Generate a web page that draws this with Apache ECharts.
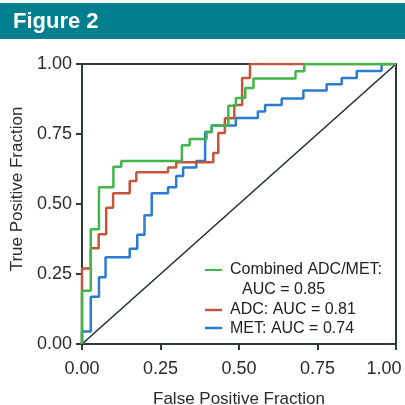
<!DOCTYPE html>
<html>
<head>
<meta charset="utf-8">
<script src="https://cdn.jsdelivr.net/npm/echarts@6/dist/echarts.min.js"></script>
<style>
  html, body { margin: 0; padding: 0; background: #fff; }
  #chart { width: 405px; height: 405px; }
</style>
</head>
<body>
<div id="chart"></div>
<script>
// ROC corner points [fpr, tpr]
var comboRoc = [[0, 0], [0, 0.19], [0.028, 0.41], [0.054, 0.56], [0.10, 0.633], [0.125, 0.654],
    [0.318, 0.71], [0.343, 0.732], [0.397, 0.757], [0.413, 0.78], [0.466, 0.851], [0.49, 0.879],
    [0.52, 0.914], [0.546, 0.948], [0.68, 0.974], [0.708, 1], [1, 1]];
var adcRoc = [[0, 0], [0, 0.27], [0.028, 0.342], [0.053, 0.392], [0.077, 0.487], [0.099, 0.538],
    [0.152, 0.582], [0.173, 0.613], [0.274, 0.63], [0.30, 0.649], [0.418, 0.682], [0.434, 0.754],
    [0.455, 0.806], [0.485, 0.854], [0.51, 0.95], [0.535, 1], [1, 1]];
var metRoc = [[0, 0], [0, 0.045], [0.028, 0.169], [0.054, 0.238], [0.075, 0.31], [0.152, 0.34],
    [0.176, 0.39], [0.199, 0.46], [0.222, 0.538], [0.274, 0.56], [0.30, 0.60], [0.322, 0.63],
    [0.364, 0.654], [0.392, 0.757], [0.413, 0.78], [0.49, 0.807], [0.56, 0.83], [0.583, 0.854],
    [0.636, 0.877], [0.705, 0.905], [0.779, 0.928], [0.827, 0.95], [0.875, 0.975], [0.954, 1], [1, 1]];
var chanceLine = [[0, 0], [1, 1]];
var ticks = [0, 0.25, 0.5, 0.75, 1];

var axisColor = '#2d3b3d';
var font = 'Liberation Sans, Arial, sans-serif';

var myChart = echarts.init(document.getElementById('chart'));

function stepSeries(name, data, color) {
    return {
        name: name,
        type: 'line',
        step: 'end',
        data: data,
        symbol: 'none',
        lineStyle: { color: color, width: 2.5 },
        animation: false
    };
}

function valueAxis(title, isX) {
    return {
        type: 'value',
        min: ticks[0],
        max: ticks[ticks.length - 1],
        interval: 0.25,
        name: title,
        nameLocation: 'middle',
        nameGap: isX ? 47 : 52,
        nameTextStyle: isX
            ? { fontFamily: font, fontSize: 17, color: '#2a2a2a' }
            : { fontFamily: font, fontSize: 17, color: '#2a2a2a', padding: [0, 0, 0, 30] },
        axisLine: { show: true, lineStyle: { color: axisColor, width: 2 } },
        axisTick: { show: true, length: 6, lineStyle: { color: axisColor, width: 2 } },
        axisLabel: {
            fontFamily: font, fontSize: 18, color: '#2a2a2a',
            margin: isX ? 16 : 10,
            formatter: function (v) {
                // last x label sits a little left of its tick, as in the figure
                if (isX && v === ticks[ticks.length - 1]) return '{m|' + v.toFixed(2) + '}';
                return v.toFixed(2);
            },
            rich: { m: { fontFamily: font, fontSize: 18, color: '#2a2a2a', padding: [0, 24, 0, 0] } }
        },
        splitLine: { show: false }
    };
}

var option = {
    backgroundColor: '#fff',
    title: {
        text: 'Figure 2',
        left: 8, top: 6,
        textStyle: { color: '#fff', fontFamily: font, fontWeight: 'bold', fontSize: 22 }
    },
    grid: {
        left: 82, right: 9, top: 64, bottom: 61,
        outerBoundsMode: 'none',
        containLabel: false,
        show: true, borderColor: axisColor, borderWidth: 2
    },
    xAxis: valueAxis('False Positive Fraction', true),
    yAxis: valueAxis('True Positive Fraction', false),
    graphic: [
        { type: 'rect', z: -1, shape: { x: 0, y: 3, width: 405, height: 36 }, style: { fill: '#00808e' } },
        { type: 'line', shape: { x1: 205, y1: 270, x2: 222, y2: 270 }, style: { stroke: '#43b649', lineWidth: 2 } },
        { type: 'line', shape: { x1: 205, y1: 310, x2: 222, y2: 310 }, style: { stroke: '#c4553c', lineWidth: 2.5 } },
        { type: 'line', shape: { x1: 205, y1: 328, x2: 222, y2: 328 }, style: { stroke: '#2b7bd0', lineWidth: 2.5 } },
        { type: 'text', x: 230, y: 270, style: { text: 'Combined ADC/MET:', font: '16px ' + font, fill: '#222', verticalAlign: 'middle' } },
        { type: 'text', x: 242, y: 290, style: { text: 'AUC = 0.85', font: '16px ' + font, fill: '#222', verticalAlign: 'middle' } },
        { type: 'text', x: 230, y: 310, style: { text: 'ADC: AUC = 0.81', font: '16px ' + font, fill: '#222', verticalAlign: 'middle' } },
        { type: 'text', x: 230, y: 329, style: { text: 'MET: AUC = 0.74', font: '16px ' + font, fill: '#222', verticalAlign: 'middle' } }
    ],
    series: [
        {
            name: 'chance', type: 'line', data: chanceLine, symbol: 'none',
            lineStyle: { color: '#1e2b2b', width: 1.5 }, animation: false
        },
        stepSeries('MET: AUC = 0.74', metRoc, '#2b7bd0'),
        stepSeries('ADC: AUC = 0.81', adcRoc, '#c4553c'),
        stepSeries('Combined ADC/MET: AUC = 0.85', comboRoc, '#43b649')
    ]
};

myChart.setOption(option);
window.addEventListener('resize', myChart.resize);
</script>
</body>
</html>
